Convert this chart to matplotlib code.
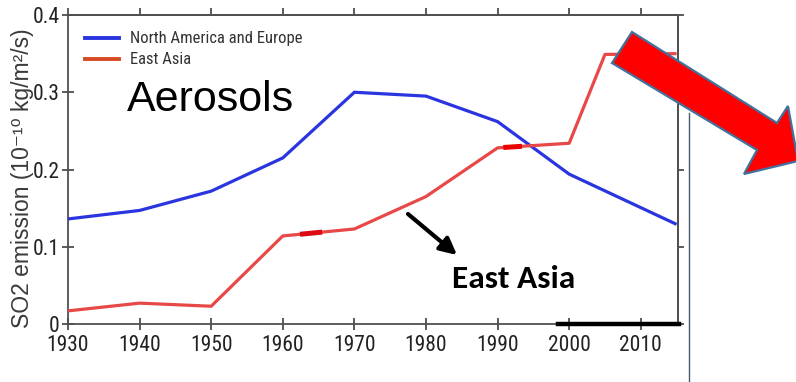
import numpy as np
import matplotlib
matplotlib.use("Agg")
import matplotlib.pyplot as plt
from matplotlib.patches import Polygon, FancyArrowPatch

# SO2 emission, 10^-10 kg/m^2/s
years_na_eu = [1930, 1940, 1950, 1960, 1970, 1980, 1990, 2000, 2015]
so2_na_eu = [0.136, 0.147, 0.172, 0.215, 0.300, 0.295, 0.262, 0.194, 0.129]

years_east_asia = [1930, 1940, 1950, 1960, 1970, 1980, 1990, 2000, 2005, 2015]
so2_east_asia = [0.017, 0.027, 0.023, 0.114, 0.123, 0.165, 0.228, 0.234, 0.349, 0.350]

x_ticks = [1930, 1940, 1950, 1960, 1970, 1980, 1990, 2000, 2010]
y_ticks = [0, 0.1, 0.2, 0.3, 0.4]
y_tick_labels = ["0", "0.1", "0.2", "0.3", "0.4"]

series_names = ["North America and Europe", "East Asia"]

W, H = 796, 382
fig = plt.figure(figsize=(W / 100, H / 100), dpi=100)
fig.patch.set_facecolor("white")

narrow = ["Roboto Condensed", "DejaVu Sans"]
sans = ["Liberation Sans", "DejaVu Sans"]
spine_col = "#505050"

ax = fig.add_axes([68 / W, 1 - 324 / H, 610 / W, 309 / H])

blue = "#2a35e0"
red = "#e84848"

ax.plot(years_na_eu, so2_na_eu, color=blue, lw=2.3, solid_capstyle="butt", zorder=3)
ax.plot(years_east_asia, so2_east_asia, color=red, lw=2.3, solid_capstyle="butt", zorder=3)

# short darker strokes over the East Asia curve
for a, b, c in [(1962.4, 1965.5, "#dd0a14"), (1990.8, 1993.4, "#ee0000")]:
    xs = np.array([a, b])
    ax.plot(xs, np.interp(xs, years_east_asia, so2_east_asia), color=c, lw=3.6,
            solid_capstyle="butt", zorder=4)

# heavy stroke along the baseline
ax.plot([1998.5, 2015.3], [0, 0], color="black", lw=3.2, zorder=5, clip_on=False)

ax.set_xlim(1930, 2015.2)
ax.set_ylim(0, 0.4)
ax.set_xticks(x_ticks)
ax.set_yticks(y_ticks)
ax.set_yticklabels(y_tick_labels)

for s in ax.spines.values():
    s.set_color(spine_col)
    s.set_linewidth(1.3)

ax.tick_params(axis="both", which="both", direction="inout", length=8, width=1.2,
               color="#404040", labelsize=15.5, labelcolor="#222222")
ax.tick_params(axis="x", pad=4)
ax.tick_params(axis="y", pad=2)
for lab in ax.get_xticklabels() + ax.get_yticklabels():
    lab.set_family(narrow)

# outward ticks on the top and right spines
top = ax.secondary_xaxis("top")
top.set_xticks(x_ticks)
top.tick_params(direction="out", length=5, width=1.2, color="#404040", labeltop=False)
right = ax.secondary_yaxis("right")
right.set_yticks(y_ticks)
right.tick_params(direction="out", length=4, width=1.2, color="#404040", labelright=False)
for sec in (top, right):
    for s in sec.spines.values():
        s.set_color(spine_col)
        s.set_linewidth(1.3)

# legend drawn as short strokes and labels
legend_colors = [blue, "#d84a24"]
for i, (name, col) in enumerate(zip(series_names, legend_colors)):
    yy = 1 - (38 + 21 * i) / H
    fig.add_artist(plt.Line2D([85 / W, 119 / W], [yy, yy], color=col, lw=2.8,
                              transform=fig.transFigure))
    fig.text(130 / W, yy, name, fontsize=12, family=narrow, color="#333333",
             va="center", ha="left")

fig.text(23 / W, 1 - 178 / H, "SO2 emission (10\u207b\u00b9\u2070 kg/m\u00b2/s)",
         rotation=90, fontsize=16.5, family=sans, color="#3a3a3a",
         va="center", ha="center")

fig.text(127 / W, 1 - 100 / H, "Aerosols", fontsize=31, family=sans,
         color="black", va="center", ha="left")

fig.text(452 / W, 1 - 279 / H, "East Asia", fontsize=24, family=["Carlito", "DejaVu Sans"],
         fontweight="bold", color="black", va="center", ha="left")

fig.add_artist(FancyArrowPatch(
    (408 / W, 1 - 214 / H), (457 / W, 1 - 255 / H), transform=fig.transFigure,
    arrowstyle="-|>,head_length=10,head_width=5", lw=3, color="black",
    mutation_scale=1, shrinkA=0, shrinkB=0))

# thin vertical rule to the right of the plot
fig.add_artist(plt.Line2D([689 / W, 689 / W], [0, 1 - 113 / H], color="#4a5a6a",
                          lw=1.0, transform=fig.transFigure))

# large red pointer arrow
pts_px = [(632, 32), (777, 123), (788, 106), (798, 161), (744, 174), (757, 150), (612, 63)]
pts = [(x / W, 1 - y / H) for x, y in pts_px]
fig.add_artist(Polygon(pts, closed=True, facecolor="#ff0000", edgecolor="#41719c",
                       lw=1.6, transform=fig.transFigure, joinstyle="miter"))

fig.savefig("out.png", dpi=100, facecolor="white")
